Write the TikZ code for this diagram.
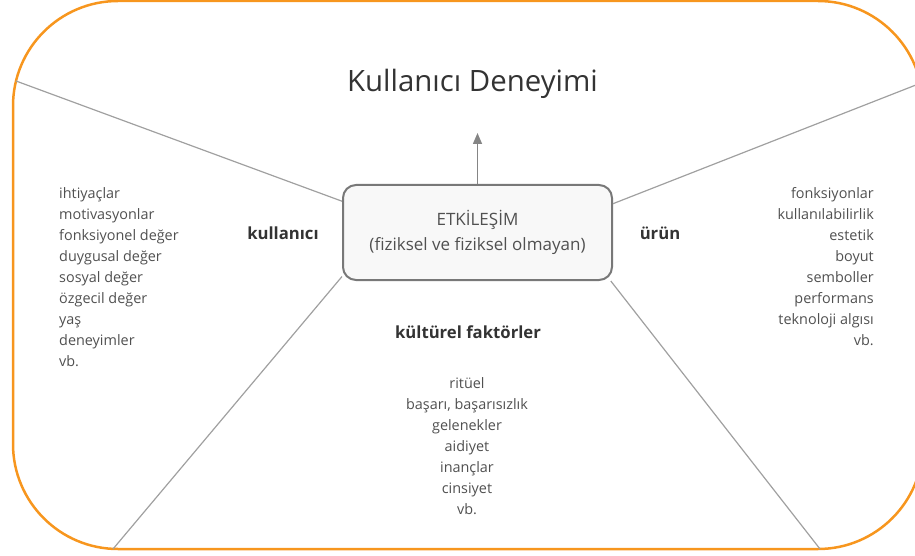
\documentclass[tikz,border=0pt]{standalone}
\usepackage{fontspec}
\setmainfont{Open Sans}
\usepackage{tikz}
\usetikzlibrary{arrows.meta,positioning}
\definecolor{cerceve}{RGB}{247,150,30}
\definecolor{ayracgri}{RGB}{160,160,160}
\definecolor{kutugri}{RGB}{120,120,120}
\definecolor{kutudolgu}{RGB}{248,248,248}
\definecolor{yazigri}{RGB}{80,80,80}
\definecolor{koyugri}{RGB}{51,51,51}

\begin{document}
\begin{tikzpicture}[x=1pt, y=-1pt,
  liste/.style={inner sep=0pt, text=yazigri, font=\fontsize{14.4}{21}\selectfont},
  etiket/.style={inner sep=0pt, text=koyugri, font=\fontsize{16.7}{19}\selectfont\bfseries},
  ayrac/.style={draw=ayracgri, line width=1.2pt}]
\useasboundingbox (0,0) rectangle (915,556);

% Dis cerceve
\draw[cerceve, line width=2.5pt, rounded corners=105pt] (13,1) rectangle (923,549);

% Baslik
\node[inner sep=0pt, text=koyugri, font=\fontsize{29.4}{32}\selectfont] (baslik) at (472.5,84) {Kullanıcı Deneyimi};

% Orta kutu
\node[draw=kutugri, fill=kutudolgu, line width=2pt, rounded corners=13pt,
      minimum width=269pt, minimum height=95pt, align=center, text=yazigri,
      font=\fontsize{17}{25}\selectfont] (etk) at (477.5,232.5)
      {ETKİLEŞİM\\(fiziksel ve fiziksel olmayan)};

% Ok
\coordinate (ok) at (477.5,133);
\draw[-{Triangle[length=11pt,width=9pt]}, draw=kutugri!90, fill=kutugri!90, line width=1.5pt] (etk.north) -- (ok);

% Ayrac cizgileri
\coordinate (sol)  at (16,81);
\coordinate (sag)  at (921,83);
\coordinate (alts) at (113,549);
\coordinate (altg) at (820,549);
\draw[ayrac] (sol)  -- (etk.167.6);
\draw[ayrac] (sag)  -- (etk.12.4);
\draw[ayrac] (alts) -- (etk.198.4);
\draw[ayrac] (altg) -- (etk.340);

% Bolum etiketleri
\node[etiket] (kul)  at (283,233) {kullanıcı};
\node[etiket] (urun) at (660,233) {ürün};
\node[etiket] (kult) at (468,332) {kültürel faktörler};

% Listeler
\node[liste, align=left, anchor=north west] (kliste) at (59,187.5)
  {ihtiyaçlar\\motivasyonlar\\fonksiyonel değer\\duygusal değer\\sosyal değer\\özgecil değer\\yaş\\deneyimler\\vb.};
\node[liste, align=right, anchor=north east] (uliste) at (874,187.5)
  {fonksiyonlar\\kullanılabilirlik\\estetik\\boyut\\semboller\\performans\\teknoloji algısı\\vb.};
\node[liste, align=center, anchor=north] (fliste) at (467,377.5)
  {ritüel\\başarı, başarısızlık\\gelenekler\\aidiyet\\inançlar\\cinsiyet\\vb.};

\end{tikzpicture}
\end{document}
